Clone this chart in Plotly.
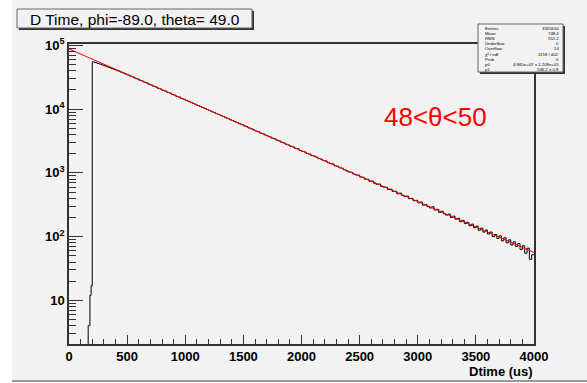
import plotly.graph_objects as go

# ---------------- data ----------------
# turn-on bins (edges, counts)
early_edges = [165, 180, 190]
early_counts = [4, 12, 17]
# main bins: width 20 us from 200 to 4000
main_start, main_width = 200, 20
main_counts = [
    55100, 53600, 52300, 51000, 49300, 47900, 46300, 44900, 43500, 42100,
    40800, 39600, 38100, 36900, 35500, 34400, 33000, 32100, 30700, 29800,
    28500, 27700, 26500, 25800, 24600, 23900, 22800, 22300, 21200, 20700,
    19700, 19300, 18300, 17900, 17000, 16600, 15800, 15500, 14700, 14300,
    13700, 13300, 12800, 12300, 11900, 11400, 11050, 10600, 10300, 9850,
    9550, 9150, 8870, 8500, 8240, 7900, 7660, 7330, 7120, 6820,
    6610, 6340, 6150, 5880, 5710, 5470, 5310, 5080, 4930, 4720,
    4540, 4430, 4210, 4120, 3930, 3790, 3680, 3500, 3420, 3260,
    3180, 3020, 2960, 2810, 2740, 2610, 2560, 2420, 2380, 2250,
    2170, 2130, 2010, 1975, 1870, 1835, 1770, 1675, 1645, 1560,
    1540, 1450, 1395, 1380, 1290, 1275, 1205, 1185, 1120, 1070,
    1035, 1025, 960, 930, 925, 860, 855, 800, 795, 740,
    745, 690, 665, 668, 615, 598, 596, 548, 556, 512,
    515, 470, 482, 445, 428, 432, 395, 398, 366, 371,
    340, 349, 312, 318, 296, 282, 294, 262, 268, 240,
    250, 228, 218, 226, 200, 210, 188, 194, 172, 180,
    160, 168, 148, 157, 138, 146, 126, 136, 118, 127,
    110, 118, 100, 108, 94, 103, 86, 96, 80, 89,
    74, 83, 70, 78, 63, 72, 55, 66, 44, 52,
]
# fitted exponential: straight line on log axis, end points
fit_x = [0, 4000]
fit_y = [88000, 56.6]

xticks = [0, 500, 1000, 1500, 2000, 2500, 3000, 3500, 4000]
yticks = [10, 100, 1000, 10000, 100000]
ytick_text = ["10", "10<sup>2</sup>", "10<sup>3</sup>", "10<sup>4</sup>", "10<sup>5</sup>"]

title_text = "D Time, phi=-89.0, theta= 49.0"
x_title = "Dtime (us)"
annot_text = "48<θ<50"
stat_labels = ["Entries", "Mean", "RMS", "Underflow", "Overflow",
               "χ² / ndf", "Prob", "p0", "p1"]
stat_values = ["3320610", "748.4", "551.2", "0", "14", "1159 / 402", "0",
               "4.865e+07 ± 1.209e+05", "536.2 ± 0.8"]

# ---------------- build step line ----------------
main_edges = [main_start + i * main_width for i in range(len(main_counts) + 1)]
hx = [early_edges[0]] + early_edges + main_edges
hy = [0.5] + early_counts + main_counts + [main_counts[-1]]

W, H = 587, 383
ML, MR, MT, MB = 69, 53, 44, 39
PW, PH = W - ML - MR, H - MT - MB


def px(x):
    return (x - ML) / PW


def py(y):
    return (H - MB - y) / PH


GRAY = "rgb(242,242,242)"

fig = go.Figure()
fig.add_trace(go.Scatter(x=hx, y=hy, mode="lines", line=dict(shape="hv", color="black", width=1),
                         hoverinfo="skip", showlegend=False))
fig.add_trace(go.Scatter(x=fit_x, y=fit_y, mode="lines", line=dict(color="red", width=1),
                         hoverinfo="skip", showlegend=False))

shapes = []
# canvas
shapes.append(dict(type="rect", xref="paper", yref="paper", x0=px(12), x1=px(W + 2), y0=py(382), y1=py(-2),
                   fillcolor=GRAY, line=dict(width=0), layer="below"))
shapes.append(dict(type="line", xref="paper", yref="paper", x0=px(12), x1=px(W), y0=py(381), y1=py(381),
                   line=dict(color="#9a9a9a", width=2), layer="below"))


def box(x0, y0, x1, y1):
    shapes.append(dict(type="rect", xref="paper", yref="paper", x0=px(x0 + 2), x1=px(x1 + 2),
                       y0=py(y1 + 2), y1=py(y0 + 2), fillcolor="#333", line=dict(width=0)))
    shapes.append(dict(type="rect", xref="paper", yref="paper", x0=px(x0), x1=px(x1),
                       y0=py(y1), y1=py(y0), fillcolor=GRAY, line=dict(color="#666", width=1)))


box(17, 9, 252, 28)
box(478, 24, 563, 72)

annotations = [
    dict(xref="paper", yref="paper", x=px(135), y=py(19), text=title_text, showarrow=False,
         font=dict(family="Liberation Sans", size=15.5, color="black"), xanchor="center", yanchor="middle"),
    dict(xref="paper", yref="paper", x=px(535), y=py(371.5), text=x_title, showarrow=False,
         font=dict(family="Liberation Sans", size=13, color="black", weight="bold"),
         xanchor="right", yanchor="middle"),
    dict(xref="paper", yref="paper", x=px(435), y=py(117), text=annot_text, showarrow=False,
         font=dict(family="Liberation Sans", size=26, color="red"), xanchor="center", yanchor="middle"),
]
for i, (lab, val) in enumerate(zip(stat_labels, stat_values)):
    yy = 28 + 5.2 * i
    annotations.append(dict(xref="paper", yref="paper", x=px(483), y=py(yy), text=lab, showarrow=False,
                            font=dict(family="Liberation Sans", size=4.3, color="black"),
                            xanchor="left", yanchor="middle"))
    annotations.append(dict(xref="paper", yref="paper", x=px(561), y=py(yy), text=val, showarrow=False,
                            font=dict(family="Liberation Sans", size=4.3, color="black"),
                            xanchor="right", yanchor="middle"))

fig.update_layout(
    width=W, height=H,
    margin=dict(l=ML, r=MR, t=MT, b=MB, pad=0),
    paper_bgcolor="white", plot_bgcolor=GRAY,
    shapes=shapes, annotations=annotations,
    xaxis=dict(range=[0, 4000], tickvals=xticks, ticks="inside", ticklen=9, tickwidth=1, tickcolor="#333",
               showgrid=False, zeroline=False, showline=True, linecolor="#333", linewidth=1.5, mirror=True,
               tickfont=dict(family="Liberation Sans", size=13, color="black", weight="bold"),
               minor=dict(dtick=100, tick0=0, ticks="inside", ticklen=5, tickcolor="#333", showgrid=False)),
    yaxis=dict(type="log", range=[0.316, 5.022], tickvals=yticks, ticktext=ytick_text, ticks="inside",
               ticklen=14, tickwidth=1, tickcolor="#333", showgrid=False, zeroline=False, showline=True,
               linecolor="#333", linewidth=1.5, mirror=True,
               tickfont=dict(family="Liberation Sans", size=13, color="black", weight="bold"),
               minor=dict(dtick="D1", ticks="inside", ticklen=7, tickcolor="#333", showgrid=False)),
)

fig.write_html("out.html", config={"displayModeBar": False})
